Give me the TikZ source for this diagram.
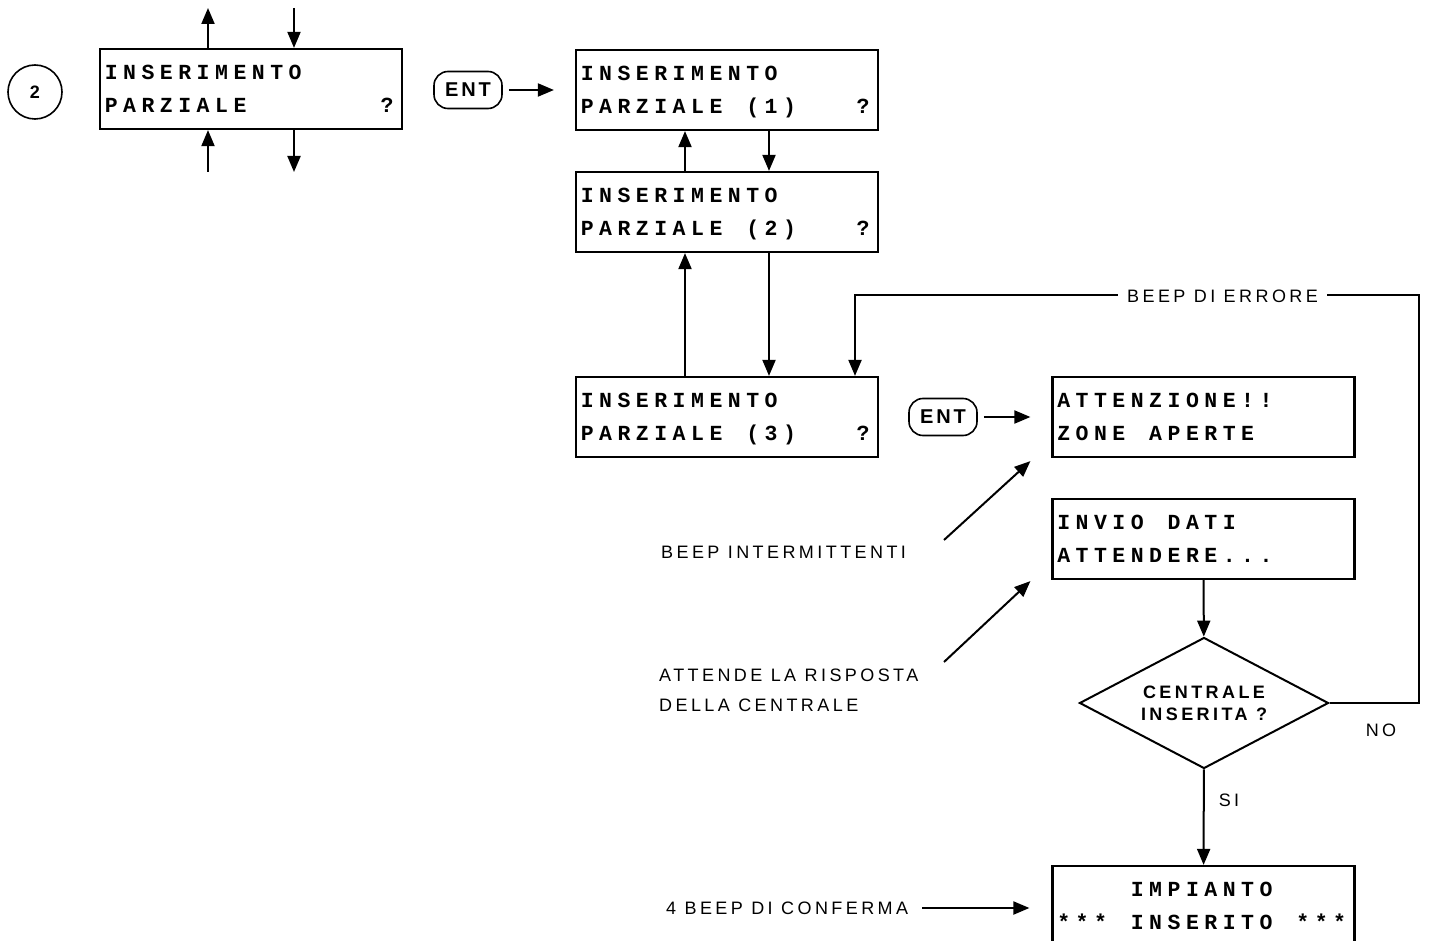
\documentclass[tikz,border=0pt]{standalone}
\usepackage{fontspec}
\setmainfont{Liberation Sans}
\newfontfamily\lcdfont{Liberation Mono}
\newfontfamily\labfont{Liberation Sans}[LetterSpace=19]
\newfontfamily\keyfont{Liberation Sans}[LetterSpace=14]
\usetikzlibrary{shapes.geometric,arrows.meta,positioning,calc}

\newdimen\lcdpitch
\lcdpitch=18.4pt
\ExplSyntaxOn
\NewDocumentCommand\lcdrow{m}
  {
    \mode_leave_vertical:
    \hbox:n
      {
        \tl_map_inline:nn {#1}
          {
            \str_if_eq:nnTF {##1} {_}
              { \hbox_to_wd:nn { \lcdpitch } { } }
              { \hbox_to_wd:nn { \lcdpitch } { \hss ##1 \hss } }
          }
      }
  }
\ExplSyntaxOff

\begin{document}
\begin{tikzpicture}[
    x=1pt, y=-1pt,
    lcd/.style={rectangle, draw, line width=2.2pt, minimum width=302pt, minimum height=80pt, inner xsep=2pt, inner ysep=0pt, text width=298pt, align=left, text height=30.5pt, text depth=49.5pt, font={\lcdfont\bfseries\fontsize{21.5}{33}\selectfont}},
    key/.style={rectangle, draw, line width=1.6pt, rounded corners=14pt, minimum width=68pt, minimum height=37pt, inner sep=0pt, font={\keyfont\bfseries\fontsize{20}{24}\selectfont}},
    query/.style={diamond, draw, line width=2pt, minimum width=249pt, minimum height=131pt, aspect=1.9, inner sep=0pt, align=center, font={\labfont\bfseries\fontsize{18}{22}\selectfont}},
    note/.style={inner sep=0pt, align=left, font={\labfont\fontsize{18}{30}\selectfont}},
    flow/.style={-{Triangle[length=16pt,width=13pt]}, line width=2pt},
    keyflow/.style={flow, shorten <=6pt, shorten >=21pt}
]
\clip (0,0) rectangle (1429,941);
\fill[white] (0,0) rectangle (1429,941);

\node[circle, draw, line width=1.6pt, minimum size=54pt, inner sep=0pt, font=\bfseries\fontsize{18}{20}\selectfont] (menuno) at (35,92) {2};
\node[lcd] (menu) at (251,89) {\lcdrow{INSERIMENTO}\\\lcdrow{PARZIALE_______?}};
\node[key] (ent1) at (468,90) {ENT};
\node[lcd] (par1) at (727,90) {\lcdrow{INSERIMENTO}\\\lcdrow{PARZIALE_(1)___?}};
\node[lcd] (par2) at (727,212) {\lcdrow{INSERIMENTO}\\\lcdrow{PARZIALE_(2)___?}};
\node[lcd] (par3) at (727,417) {\lcdrow{INSERIMENTO}\\\lcdrow{PARZIALE_(3)___?}};
\node[key] (ent2) at (943,417) {ENT};
\node[lcd] (zone) at (1203.5,417) {\lcdrow{ATTENZIONE!!}\\\lcdrow{ZONE_APERTE}};
\node[lcd] (invio) at (1203.5,539) {\lcdrow{INVIO_DATI}\\\lcdrow{ATTENDERE...}};
\node[query] (check) at (1204,703) {CENTRALE\\INSERITA ?};
\node[lcd] (armed) at (1203.5,906) {\lcdrow{____IMPIANTO}\\\lcdrow{***_INSERITO_***}};

\node[note, anchor=west] (intm) at (661,552) {BEEP INTERMITTENTI};
\node[note, anchor=north west] (wait) at (659,669) {ATTENDE LA RISPOSTA\\DELLA CENTRALE};
\node[note, anchor=west] (conf) at (666,908) {4 BEEP DI CONFERMA};
\node[note] (no) at (1381,730) {NO};
\node[note] (si) at (1229,800) {SI};

\coordinate (upL) at (208,8);
\coordinate (downR) at (294,8);
\coordinate (upLb) at (208,172);
\coordinate (downRb) at (294,172);
\coordinate (intmA) at (944,540);
\coordinate (waitA) at (944,662);
\coordinate (errR) at (1419,295);
\coordinate (errL) at (855,295);

\draw[flow] (menu.north -| upL) -- (upL);
\draw[flow] (downR) -- (menu.north -| downR);
\draw[flow] (upLb) -- (menu.south -| upLb);
\draw[flow] (menu.south -| downRb) -- (downRb);

\draw[keyflow] (ent1) -- (par1);
\draw[flow] ([xshift=-42]par2.north) -- ([xshift=-42]par1.south);
\draw[flow] ([xshift=42]par1.south) -- ([xshift=42]par2.north);
\draw[flow] ([xshift=-42]par3.north) -- ([xshift=-42]par2.south);
\draw[flow] ([xshift=42]par2.south) -- ([xshift=42]par3.north);

\draw[keyflow] (ent2) -- (zone);
\draw[flow] (intmA) -- ([xshift=-21,yshift=-3]zone.south west);
\draw[flow] (waitA) -- ([xshift=-21,yshift=-1]invio.south west);
\draw[flow] (invio) -- (check);
\draw[flow] (check) -- (armed);
\draw[flow] (check.east) -- (check.east -| errR) |- (errL) -- (par3.north -| errL);
\node[note, fill=white, inner xsep=9pt, anchor=west] (err) at (1118,296) {BEEP DI ERRORE};
\draw[flow, shorten <=14pt, shorten >=22pt] (conf.east) -- (conf.east -| armed.west);

\end{tikzpicture}
\end{document}
